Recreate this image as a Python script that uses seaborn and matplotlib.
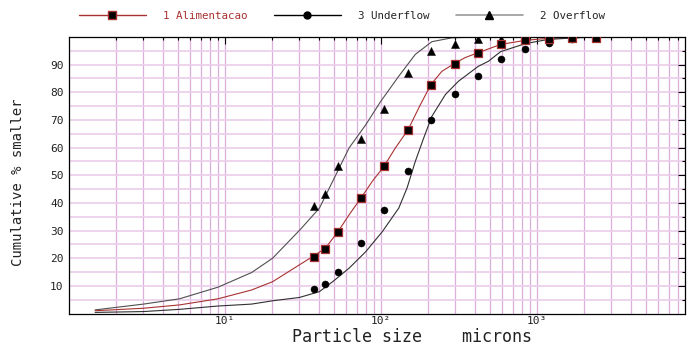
import matplotlib as mpl
mpl.use("Agg")
import matplotlib.pyplot as plt
from matplotlib.lines import Line2D
from matplotlib.ticker import LogLocator, FixedLocator, NullFormatter
import seaborn as sns

# sieve openings (microns)
sieve = [37, 44, 53, 74, 105, 149, 210, 297, 420, 590, 840, 1190, 1680, 2380]

# measured cumulative % smaller
feed_pts = [20.6, 23.3, 29.5, 41.7, 53.2, 66.5, 82.8, 90.4, 94.3, 97.3, 98.8, 99.1, 99.5, 99.8]
under_pts = [8.8, 10.7, 15.1, 25.4, 37.5, 51.5, 69.9, 79.2, 85.8, 92.1, 95.5, 97.9, 99.1, 99.7]
over_sieve = [37, 44, 53, 74, 105, 149, 210, 297, 420, 590]
over_pts = [38.9, 43.3, 53.2, 63.1, 74.1, 87.0, 94.9, 97.6, 99.1, 99.3]

# fitted curves
feed_cx = [1.47, 3.0, 5.1, 9.0, 14.8, 20.2, 30.0, 37.0, 44.0, 53.0, 62.5, 74.3, 88, 104.5,
           123.8, 149.4, 174.5, 209, 246, 294, 345, 419, 585, 843, 1177, 1645, 2420]
feed_cy = [1.0, 1.9, 3.1, 5.3, 8.5, 11.5, 17.6, 20.8, 23.6, 29.6, 35.7, 41.7, 47.8, 53.2,
           59.9, 66.5, 74.3, 82.8, 87.6, 90.3, 92.5, 94.3, 97.3, 98.8, 99.5, 99.8, 100]
under_cx = [1.47, 3.0, 5.1, 9.0, 14.8, 20.2, 30.0, 40.3, 49.0, 62.5, 80.0, 102, 130, 147,
            166, 188, 212, 259, 314, 421, 488, 585, 843, 1177, 1645, 2420]
under_cy = [0.4, 0.7, 1.5, 2.7, 3.4, 4.6, 5.8, 7.9, 11.5, 16.4, 22.4, 29.6, 38.1, 45.4,
            55.0, 63.5, 71.3, 79.2, 84.0, 89.4, 91.2, 94.7, 97.6, 99.1, 99.6, 100]
over_cx = [1.47, 3.0, 5.1, 9.0, 14.8, 20.2, 30.3, 40.3, 49.0, 62.5, 80.0, 99.6, 130, 166,
           212, 285, 421, 2420]
over_cy = [1.3, 3.4, 5.3, 9.5, 14.8, 20.0, 30.3, 38.1, 47.8, 59.9, 68.3, 76.7, 85.8, 93.7,
           98.3, 99.7, 100, 100]

red = '#a83232'
mono = 'DejaVu Sans Mono'

sns.set_theme(style='white')
plt.rcParams['font.family'] = [mono, 'DejaVu Sans']

fig = plt.figure(figsize=(6.9, 3.45), dpi=100)
ax = fig.add_axes([0.1, 0.0913, 0.8928, 0.8015])

# curves
sns.lineplot(x=over_cx, y=over_cy, ax=ax, color='#505050', lw=0.8, sort=False, estimator=None)
sns.lineplot(x=feed_cx, y=feed_cy, ax=ax, color=red, lw=0.8, sort=False, estimator=None)
sns.lineplot(x=under_cx, y=under_cy, ax=ax, color='#303030', lw=0.8, sort=False, estimator=None)

# measured points
sns.scatterplot(x=over_sieve, y=over_pts, ax=ax, marker='^', s=34, color='black',
                edgecolor='black', linewidth=0.3, zorder=5)
sns.scatterplot(x=sieve, y=under_pts, ax=ax, marker='o', s=26, color='black',
                edgecolor='black', linewidth=0.3, zorder=5)
sns.scatterplot(x=sieve, y=feed_pts, ax=ax, marker='s', s=32, color='black',
                edgecolor=red, linewidth=0.9, zorder=6)

ax.set_xscale('log')
ax.set_xlim(1, 8900)
ax.set_ylim(0, 100)

ax.xaxis.set_major_locator(FixedLocator([10, 100, 1000]))
ax.set_xticklabels(['10\u00b9', '10\u00b2', '10\u00b3'])
ax.xaxis.set_minor_locator(LogLocator(base=10, subs=range(2, 10), numticks=20))
ax.xaxis.set_minor_formatter(NullFormatter())
ax.set_yticks(range(10, 100, 10))
ax.set_yticks(range(5, 100, 10), minor=True)

ax.grid(which='both', axis='x', color='#dcaedc', lw=0.9)
ax.grid(which='both', axis='y', color='#ebcdeb', lw=1.2)
ax.set_axisbelow(True)

ax.tick_params(which='both', direction='in', top=True, right=True, color='black',
               labelsize=8, labelcolor='#222222')
ax.tick_params(which='major', length=5, width=0.8)
ax.tick_params(which='minor', length=2.5, width=0.8)
ax.tick_params(axis='x', which='major', pad=2)
ax.tick_params(axis='y', which='major', pad=4)
for sp in ax.spines.values():
    sp.set_color('black')
    sp.set_linewidth(0.9)

ax.set_xlabel('Particle size    microns', fontsize=12, color='#222222')
ax.xaxis.set_label_coords(0.557, -0.052)
ax.set_ylabel('Cumulative % smaller', fontsize=10, color='#222222')
ax.yaxis.set_label_coords(-0.072, 0.476)

handles = [
    Line2D([], [], color=red, lw=1, marker='s', markersize=5.5,
           markerfacecolor='black', markeredgecolor=red),
    Line2D([], [], color='black', lw=1, marker='o', markersize=5,
           markerfacecolor='black', markeredgecolor='black'),
    Line2D([], [], color='#9a9a9a', lw=1.2, marker='^', markersize=5.5,
           markerfacecolor='black', markeredgecolor='black'),
]
leg = fig.legend(handles, ['1 Alimentacao', '3 Underflow', '2 Overflow'],
                 loc='center left', bbox_to_anchor=(0.1, 0.953), ncol=3, frameon=False,
                 fontsize=7.8, handlelength=6.2, handletextpad=1.6, columnspacing=2.4,
                 numpoints=1)
leg.get_texts()[0].set_color(red)

fig.savefig('out.png', dpi=100)
